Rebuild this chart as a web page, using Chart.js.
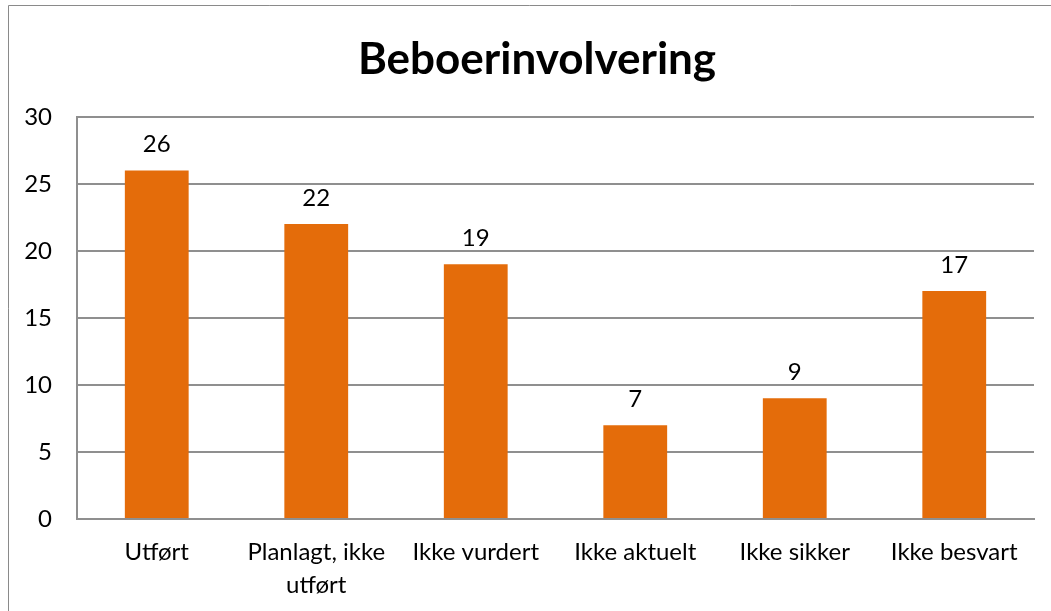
<!DOCTYPE html>
<html>
<head>
<meta charset="utf-8">
<script src="https://cdn.jsdelivr.net/npm/chart.js@4"></script>
<style>
  html, body { margin: 0; padding: 0; background: #fff; }
  #wrap { width: 1051px; height: 611px; position: relative; }
</style>
</head>
<body>
<div id="wrap"><canvas id="myChart"></canvas></div>
<script>
const categories = [['Utført'], ['Planlagt, ikke', 'utført'], ['Ikke vurdert'], ['Ikke aktuelt'], ['Ikke sikker'], ['Ikke besvart']];
const values = [26, 22, 19, 7, 9, 17];
const yTicks = [0, 5, 10, 15, 20, 25, 30];

const FONT = 'Lato, "Open Sans", sans-serif';
const ORANGE = '#E46C0A';
const GRID = '#8f8f8f';

// labels over each bar + the outer frame of the chart box
const valueLabels = {
  id: 'valueLabels',
  afterLayout(chart) {
    // title in the original sits a bit right of the canvas centre
    if (chart.titleBlock) chart.titleBlock.left += 40;
  },
  afterDatasetsDraw(chart) {
    const c = chart.ctx;
    const meta = chart.getDatasetMeta(0);
    c.save();
    c.font = '24px ' + FONT;
    c.fillStyle = '#000';
    c.textAlign = 'center';
    c.textBaseline = 'middle';
    meta.data.forEach((bar, i) => {
      c.fillText(String(values[i]), bar.x, bar.y - 26);
    });
    c.restore();
  },
  afterDraw(chart) {
    const c = chart.ctx;
    c.save();
    c.strokeStyle = '#8a8a8a';
    c.lineWidth = 1;
    c.beginPath();
    c.moveTo(8.5, 611);
    c.lineTo(8.5, 5.5);
    c.lineTo(1051, 5.5);
    c.stroke();
    c.restore();
  }
};

const ctx = document.getElementById('myChart');

new Chart(ctx, {
  type: 'bar',
  data: {
    labels: categories,
    datasets: [{
      label: 'Beboerinvolvering',
      data: values,
      backgroundColor: ORANGE,
      borderWidth: 0,
      barPercentage: 0.4,
      categoryPercentage: 1
    }]
  },
  options: {
    responsive: true,
    maintainAspectRatio: false,
    animation: false,
    layout: { padding: { left: 0, right: 17, top: 0, bottom: 0 } },
    plugins: {
      legend: { display: false },
      tooltip: { enabled: false },
      title: {
        display: true,
        text: 'Beboerinvolvering',
        color: '#000',
        font: { family: FONT, size: 44, weight: 'bold', lineHeight: 1.2 },
        padding: { top: 33, bottom: 31 }
      }
    },
    scales: {
      x: {
        grid: { display: false, drawTicks: false },
        border: { display: true, color: GRID, width: 2 },
        ticks: {
          color: '#000',
          font: { family: FONT, size: 24, lineHeight: 1.375 },
          padding: 17,
          maxRotation: 0,
          autoSkip: false
        },
        afterFit(scale) { scale.height = 92; }
      },
      y: {
        min: 0,
        max: 30,
        afterBuildTicks(scale) { scale.ticks = yTicks.map(v => ({ value: v })); },
        grid: { color: GRID, lineWidth: 2, drawTicks: false },
        border: { display: true, color: GRID, width: 2 },
        ticks: {
          color: '#000',
          font: { family: FONT, size: 24 },
          padding: 25
        },
        afterFit(scale) { scale.width = 77; }
      }
    }
  },
  plugins: [valueLabels]
});
</script>
</body>
</html>
